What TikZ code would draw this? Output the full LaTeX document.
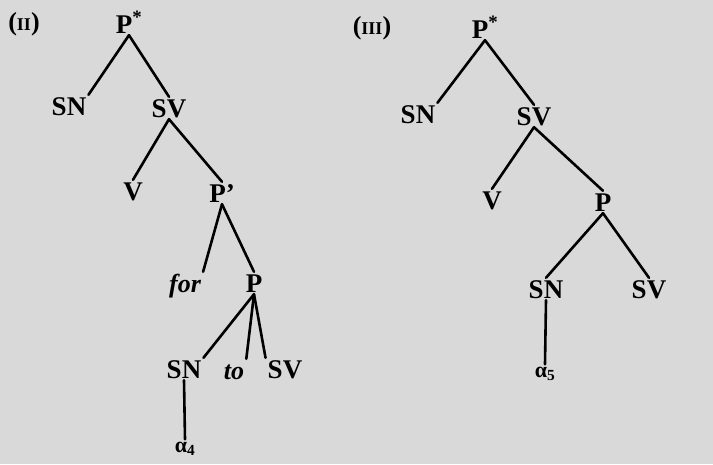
\documentclass[tikz,border=0pt]{standalone}
\usepackage{fontspec}
\setmainfont{Liberation Serif}
\begin{document}
\begin{tikzpicture}[x=1pt,y=-1pt,
  lab/.style={font=\fontsize{27}{29}\selectfont\bfseries, inner sep=2pt, text height=18pt, text depth=0pt},
  ital/.style={font=\fontsize{26}{29}\selectfont\bfseries\itshape, inner sep=2pt, text height=18pt, text depth=0pt},
  roman/.style={font=\fontsize{26}{28}\selectfont\bfseries, inner sep=2pt},
  small/.style={font=\fontsize{22}{24}\selectfont\bfseries, inner sep=2pt, text height=11pt, text depth=2pt},
  br/.style={line width=2.6pt, line cap=round}]
\fill[gray!30] (0,0) rectangle (713,464);
\useasboundingbox (0,0) rectangle (713,464);
% Tree II
\node[roman] (l2) at (24,24) {({\fontsize{18}{20}\selectfont II})};
\node[lab] (p2) at (129,24) {P\textsuperscript{*}};
\node[lab] (sn2) at (69,106) {SN};
\node[lab] (sv2) at (169,108) {SV};
\node[lab] (v2) at (133,191) {V};
\node[lab] (pp2) at (222,193) {P'};
\node[ital] (for2) at (185,283) {for};
\node[lab] (pq2) at (254,283) {P};
\node[lab] (sn2b) at (184,369) {SN};
\node[ital] (to2) at (234,370) {to};
\node[lab] (sv2b) at (285,369) {SV};
\node[small] (a4) at (185,448) {α\textsubscript{4}};
\draw[br] (p2.south) -- (sn2.north east);
\draw[br] (p2.south) -- (sv2.north);
\draw[br] (sv2.south) -- (v2.north);
\draw[br] (sv2.south) -- (pp2.north);
\draw[br] (pp2.south) -- (for2.north east);
\draw[br] (pp2.south) -- (pq2.north);
\draw[br] (pq2.south) -- (sn2b.north east);
\draw[br] (pq2.south) -- (to2.north east);
\draw[br] (pq2.south) -- (sv2b.north west);
\draw[br] (sn2b.south) -- (a4.north);
% Tree III
\node[roman] (l3) at (372,28) {({\fontsize{18}{20}\selectfont III})};
\node[lab] (p3) at (485,29) {P\textsuperscript{*}};
\node[lab] (sn3) at (418,114) {SN};
\node[lab] (sv3) at (534,116) {SV};
\node[lab] (v3) at (492,200) {V};
\node[lab] (pq3) at (603,202) {P};
\node[lab] (sn3b) at (546,289) {SN};
\node[lab] (sv3b) at (649,289) {SV};
\node[small] (a5) at (545,373) {α\textsubscript{5}};
\draw[br] (p3.south) -- (sn3.north east);
\draw[br] (p3.south) -- (sv3.north);
\draw[br] (sv3.south) -- (v3.north);
\draw[br] (sv3.south) -- (pq3.north);
\draw[br] (pq3.south) -- (sn3b.north);
\draw[br] (pq3.south) -- (sv3b.north);
\draw[br] (sn3b.south) -- (a5.north);
\end{tikzpicture}
\end{document}
